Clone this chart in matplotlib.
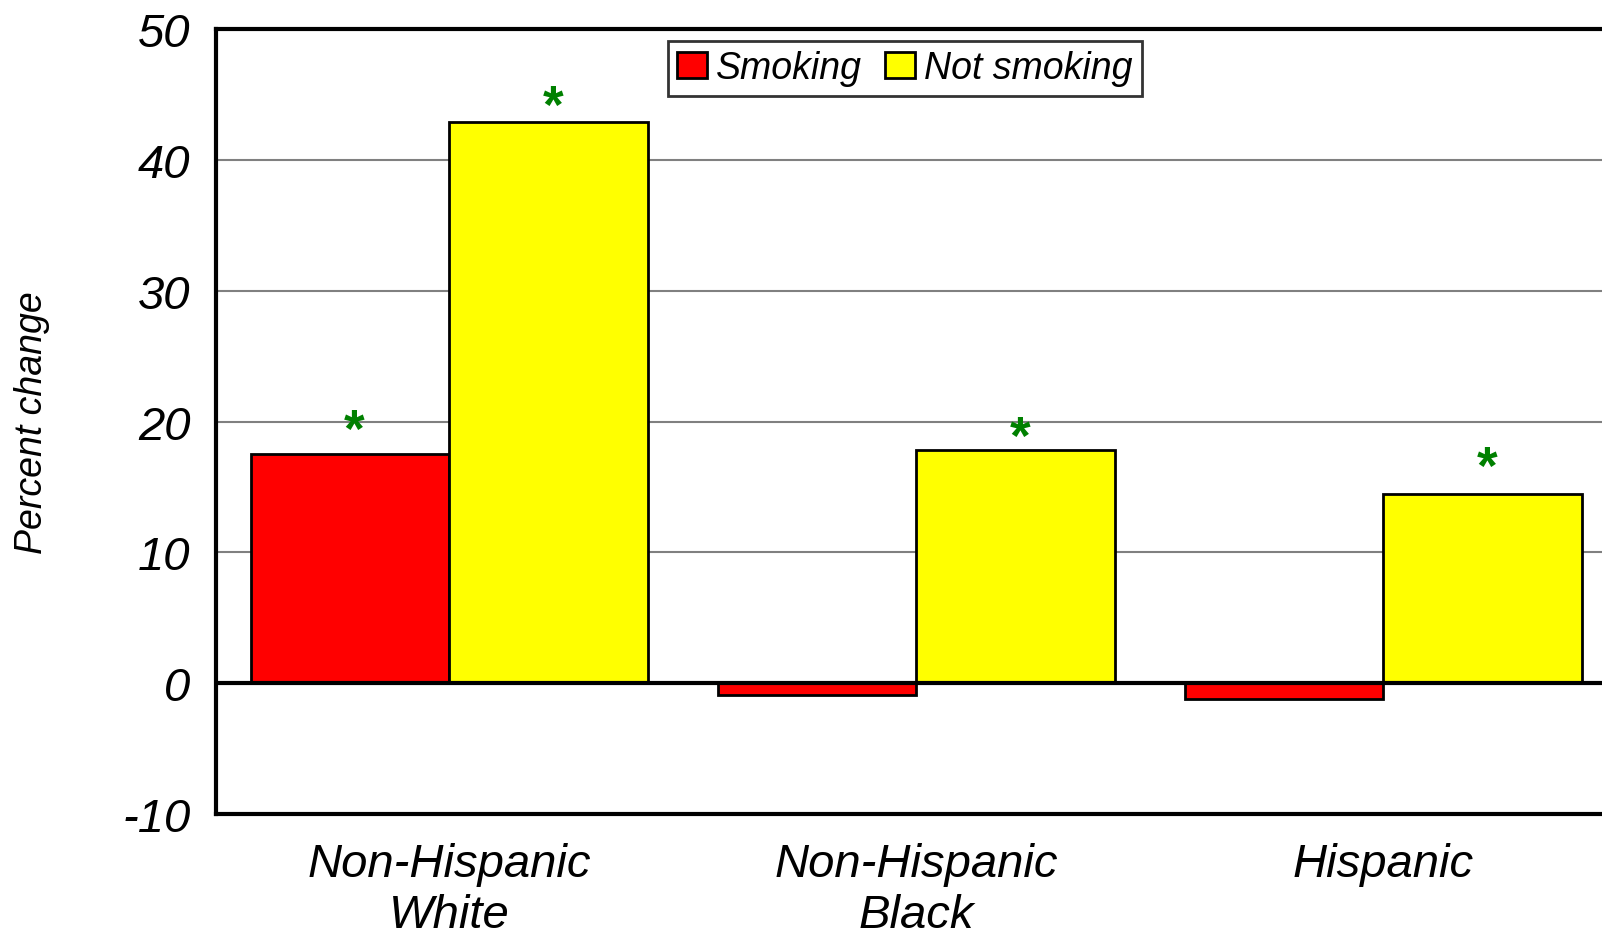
import numpy as np
import matplotlib
matplotlib.use("Agg")
import matplotlib.pyplot as plt

plt.rcParams['font.family'] = ['Liberation Sans', 'DejaVu Sans']

# data
categories = ["Non-Hispanic\nWhite", "Non-Hispanic\nBlack", "Hispanic"]
smoking = [17.5, -0.9, -1.2]
not_smoking = [42.9, 17.8, 14.5]
# significance stars: (category index, series, height)
star_cat = [0, 0, 1, 2]
star_series = [0, 1, 1, 1]
star_y = [19.2, 44.0, 18.7, 16.4]
yticks = [-10, 0, 10, 20, 30, 40, 50]

fig = plt.figure(figsize=(16.02, 9.37), dpi=100)
ax = fig.add_axes([0.1346, 0.1300, 0.8745, 0.8380])

x = np.arange(len(categories))
w = 0.425

ax.bar(x - w/2, smoking, w, color="#ff0000", edgecolor="black", linewidth=2,
       label="Smoking", zorder=3)
ax.bar(x + w/2, not_smoking, w, color="#ffff00", edgecolor="black", linewidth=2,
       label="Not smoking", zorder=3)

for c, s, yv in zip(star_cat, star_series, star_y):
    xs = x[c] + (w/2 if s == 1 else -w/2) + 0.01
    ax.text(xs, yv, "*", color="#008000", fontsize=38, fontweight="bold",
            ha="center", va="center", zorder=4)

ax.set_xlim(-0.5, 2.5)
ax.set_ylim(-10, 50)
ax.set_yticks(yticks)
ax.set_yticklabels([str(t) for t in yticks], fontsize=34, style="italic")
ax.set_xticks(x)
ax.set_xticklabels(categories, fontsize=34, style="italic", linespacing=1.2)
ax.tick_params(axis="y", length=0, pad=18)
ax.tick_params(axis="x", length=0, pad=20)

for t in [10, 20, 30, 40]:
    ax.axhline(t, color="#808080", linewidth=1.5, zorder=1)
ax.axhline(0, color="black", linewidth=3, zorder=3.5)

for side in ["left", "top", "bottom"]:
    ax.spines[side].set_linewidth(3)
ax.spines["right"].set_visible(False)

ax.set_ylabel("Percent change", fontsize=27, style="italic")
ax.yaxis.set_label_coords(-0.118, 0.5)

leg = ax.legend(loc="upper center", bbox_to_anchor=(0.492, 0.985), ncol=2,
                prop={"style": "italic", "size": 27},
                frameon=True, fancybox=False, edgecolor="black",
                handlelength=0.8, handleheight=0.7, handletextpad=0.25,
                columnspacing=0.6, borderpad=0.25, borderaxespad=0)
leg.get_frame().set_linewidth(2)

fig.savefig("out.png", dpi=100)
